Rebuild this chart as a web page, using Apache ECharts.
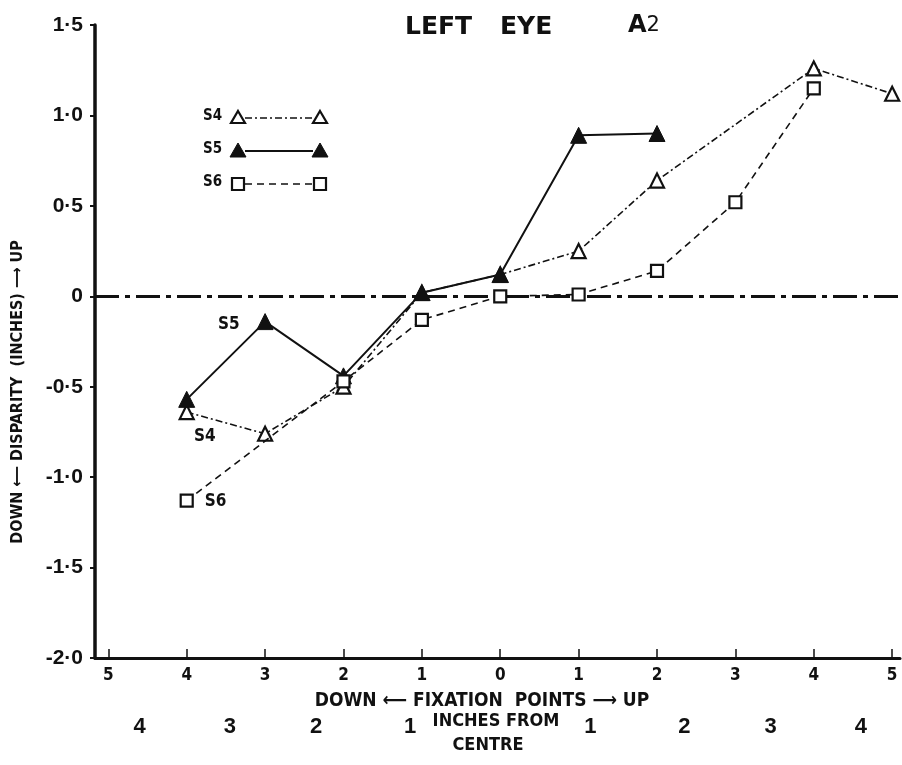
<!DOCTYPE html>
<html>
<head>
<meta charset="utf-8">
<script src="https://cdn.jsdelivr.net/npm/echarts@6/dist/echarts.min.js"></script>
<style>
  html, body { margin: 0; padding: 0; background: #fff; }
  #chart { width: 902px; height: 765px; }
</style>
</head>
<body>
<div id="chart"></div>
<script>
// Fixation point positions (negative = down, positive = up)
const fixationPoints = [-4, -3, -2, -1, 0, 1, 2, 3, 4, 5];
// Vertical disparity (inches) for each subject; null = no reading
const s4Disparity = [-0.64, -0.76, -0.50, 0.02, 0.12, 0.25, 0.64, null, 1.26, 1.12];
const s5Disparity = [-0.57, -0.14, -0.44, 0.02, 0.12, 0.89, 0.90, null, null, null];
const s6Disparity = [-1.13, null, -0.47, -0.13, 0.00, 0.01, 0.14, 0.52, 1.15, null];

// Axis ticks
const xTicks = [-5, -4, -3, -2, -1, 0, 1, 2, 3, 4, 5];
const yTicks = [-2, -1.5, -1, -0.5, 0, 0.5, 1, 1.5];
// Second scale: inches from centre, placed along the fixation-point axis
const centreInchLabels = ['4', '3', '2', '1', '1', '2', '3', '4'];
const centreInchAt = [-4.6, -3.45, -2.35, -1.15, 1.15, 2.35, 3.45, 4.6];

const INK = '#111';
const NARROW = "'Liberation Sans Narrow', 'DejaVu Sans Condensed', sans-serif";
const BOLD_SANS = "'Liberation Sans', Arial, sans-serif";

const seriesDefs = [
  { name: 'S4', values: s4Disparity, symbol: 'triangle', size: 14, filled: false,
    line: { width: 1.6, type: [7, 3, 2, 3] },
    note: { x: -4, text: 'S4', position: 'bottom', offset: [18, 3] } },
  { name: 'S5', values: s5Disparity, symbol: 'triangle', size: 16, filled: true,
    line: { width: 2, type: 'solid' },
    note: { x: -3, text: 'S5', position: 'left', offset: [-12, 3] } },
  { name: 'S6', values: s6Disparity, symbol: 'rect', size: 12, filled: false,
    line: { width: 1.6, type: [7, 5] },
    note: { x: -4, text: 'S6', position: 'right', offset: [6, 1] } }
];

function toPoints(def) {
  const pts = [];
  fixationPoints.forEach((x, i) => {
    const y = def.values[i];
    if (y === null) return;
    const item = { value: [x, y] };
    if (def.note && def.note.x === x) {
      item.label = {
        show: true, formatter: def.note.text, position: def.note.position,
        offset: def.note.offset, color: INK, fontFamily: NARROW,
        fontWeight: 'bold', fontSize: 17
      };
    }
    pts.push(item);
  });
  return pts;
}

const series = seriesDefs.map((def, idx) => ({
  name: def.name,
  type: 'line',
  data: toPoints(def),
  symbol: def.symbol,
  symbolSize: def.size,
  z: 3 + idx,
  lineStyle: { color: INK, width: def.line.width, type: def.line.type },
  itemStyle: def.filled
    ? { color: INK, borderColor: INK, borderWidth: 1 }
    : { color: '#fff', borderColor: INK, borderWidth: 2.2 },
  label: { show: false }
}));

// Zero-disparity reference line
series[0].markLine = {
  silent: true,
  symbol: 'none',
  label: { show: false },
  lineStyle: { color: INK, width: 3, type: [24, 6, 5, 6] },
  data: [{ yAxis: 0 }],
  z: 2
};

// Hand-drawn style key in the upper left
function keyGraphics() {
  const rows = [118, 151, 184];
  const x1 = 238, x2 = 320;
  const els = [];
  seriesDefs.forEach((def, i) => {
    const y = rows[i];
    els.push({
      type: 'text', left: 203, top: y - 9,
      style: { text: def.name, font: 'bold 15px ' + NARROW, fill: INK }
    });
    els.push({
      type: 'line', shape: { x1: x1 + 7, y1: y, x2: x2 - 7, y2: y },
      style: { stroke: INK, lineWidth: def.line.width, lineDash: def.line.type === 'solid' ? null : def.line.type }
    });
    [x1, x2].forEach(cx => {
      const s = def.size;
      if (def.symbol === 'triangle') {
        els.push({
          type: 'polygon',
          shape: { points: [[cx, y - s / 2], [cx + s / 2, y + s / 2 - 2], [cx - s / 2, y + s / 2 - 2]] },
          style: def.filled ? { fill: INK, stroke: INK, lineWidth: 1 } : { fill: '#fff', stroke: INK, lineWidth: 2.2 }
        });
      } else {
        els.push({
          type: 'rect',
          shape: { x: cx - s / 2, y: y - s / 2, width: s, height: s },
          style: { fill: '#fff', stroke: INK, lineWidth: 2.2 }
        });
      }
    });
  });
  return els;
}

const chart = echarts.init(document.getElementById('chart'), null, { renderer: 'canvas' });

chart.setOption({
  animation: false,
  backgroundColor: '#fff',
  grid: { left: 95, right: 2, top: 25, bottom: 107, containLabel: false },
  xAxis: [
    {
      type: 'value', min: -5.17, max: 5.1,
      axisLine: { show: true, onZero: false, lineStyle: { color: INK, width: 3 } },
      axisTick: { show: true, inside: true, length: 9, customValues: xTicks, lineStyle: { color: INK, width: 1.5 } },
      axisLabel: {
        customValues: xTicks, margin: 9, color: INK,
        fontFamily: NARROW, fontWeight: 'bold', fontSize: 17,
        formatter: v => String(Math.abs(Math.round(v)))
      },
      splitLine: { show: false }
    },
    {
      type: 'value', min: -5.17, max: 5.1, position: 'bottom', offset: 52,
      axisLine: { show: false }, axisTick: { show: false }, splitLine: { show: false },
      axisLabel: {
        customValues: centreInchAt, margin: 6, color: INK,
        fontFamily: BOLD_SANS, fontWeight: 'bold', fontSize: 22,
        formatter: v => {
          let best = 0;
          centreInchAt.forEach((p, i) => { if (Math.abs(p - v) < Math.abs(centreInchAt[best] - v)) best = i; });
          return centreInchLabels[best];
        }
      }
    }
  ],
  yAxis: {
    type: 'value', min: -2, max: 1.5, interval: 0.5,
    axisLine: { show: true, onZero: false, lineStyle: { color: INK, width: 3.5 } },
    axisTick: { show: true, length: 5, lineStyle: { color: INK, width: 2 } },
    axisLabel: {
      margin: 12, color: INK, fontFamily: BOLD_SANS, fontWeight: 'bold', fontSize: 21,
      formatter: v => (v === 0 ? '0' : v.toFixed(1).replace('.', '\u00B7'))
    },
    splitLine: { show: false }
  },
  series: series,
  graphic: [
    {
      type: 'text', left: 405, top: 15,
      style: { text: 'LEFT', font: "bold 25px 'DejaVu Sans', sans-serif", fill: INK }
    },
    {
      type: 'text', left: 500, top: 15,
      style: { text: 'EYE', font: "bold 25px 'DejaVu Sans', sans-serif", fill: INK }
    },
    {
      type: 'text', left: 628, top: 14,
      style: {
        text: '{a|A}{n|2}',
        rich: {
          a: { font: "bold 24px 'DejaVu Sans', sans-serif", fill: INK },
          n: { font: "21px 'DejaVu Sans', sans-serif", fill: INK }
        }
      }
    },
    {
      type: 'text', x: 18, y: 392, rotation: Math.PI / 2,
      style: {
        text: 'DOWN \u27F5 DISPARITY  (INCHES) \u27F6 UP',
        font: 'bold 16px ' + NARROW, fill: INK, align: 'center', verticalAlign: 'middle'
      }
    },
    {
      type: 'text', x: 482, y: 701,
      style: {
        text: 'DOWN \u27F5 FIXATION  POINTS \u27F6 UP',
        font: 'bold 19px ' + NARROW, fill: INK, align: 'center', verticalAlign: 'middle'
      }
    },
    {
      type: 'text', x: 496, y: 721,
      style: { text: 'INCHES FROM', font: 'bold 18px ' + NARROW, fill: INK, align: 'center', verticalAlign: 'middle' }
    },
    {
      type: 'text', x: 488, y: 745,
      style: { text: 'CENTRE', font: 'bold 18px ' + NARROW, fill: INK, align: 'center', verticalAlign: 'middle' }
    }
  ].concat(keyGraphics())
});
</script>
</body>
</html>
